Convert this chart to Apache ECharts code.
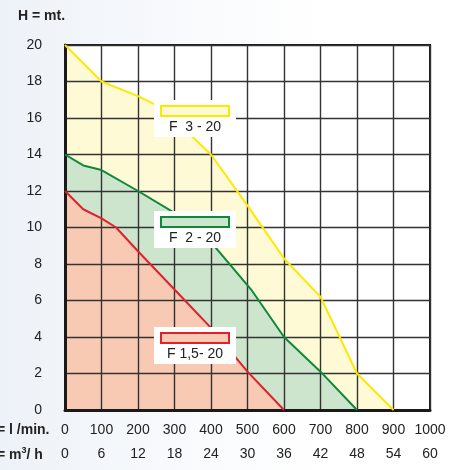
<!DOCTYPE html>
<html>
<head>
<meta charset="utf-8">
<script src="https://cdn.jsdelivr.net/npm/echarts@6/dist/echarts.min.js"></script>
<style>
html,body{margin:0;padding:0;width:460px;height:470px;overflow:hidden;
background:linear-gradient(90deg,#edf2f8 0%,#f7f9fc 35%,#ffffff 70%);}
#c{width:460px;height:470px;}
</style>
</head>
<body>
<div id="c"></div>
<script>
// Flow ticks (l/min) and matching m3/h ticks
var flowTicks = [0,100,200,300,400,500,600,700,800,900,1000];
var m3hTicks = [0,6,12,18,24,30,36,42,48,54,60];
var headTicks = [0,2,4,6,8,10,12,14,16,18,20];

// F 3-20
var f3Flow = [0, 100, 200, 250, 300, 400, 500, 600, 700, 800, 900];
var f3Head = [20, 18, 17.2, 16.7, 15.9, 14, 11.2, 8.3, 6.2, 2, 0];
// F 2-20
var f2Flow = [0, 50, 100, 200, 300, 400, 510, 600, 700, 800];
var f2Head = [14, 13.4, 13.15, 12, 10.8, 9.2, 6.6, 4.0, 2.1, 0];
// F 1,5-20
var f15Flow = [0, 50, 100, 140, 200, 300, 400, 500, 600];
var f15Head = [12, 11, 10.5, 10, 8.7, 6.6, 4.5, 2.1, 0];

var names = ['F  3 - 20', 'F  2 - 20', 'F 1,5- 20'];

function pairs(xs, ys){ return xs.map(function(x,i){return [x, ys[i]];}); }

var chart = echarts.init(document.getElementById('c'), null, {renderer:'canvas'});
var FONT = 'Liberation Sans, Arial, sans-serif';

function areaSeries(data, fill, z){
  return {type:'line', data:data, symbol:'none', z:z, silent:true,
    lineStyle:{width:0, opacity:0}, areaStyle:{color:fill, opacity:1}};
}
function lineSeries(data, col, z){
  return {type:'line', data:data, symbol:'none', z:z, silent:true,
    lineStyle:{width:2, color:col}};
}

function legendBox(top, stroke, fill, text){
  return {type:'group', z:100, children:[
    {type:'rect', shape:{x:154, y:top, width:82, height:37}, style:{fill:'#ffffff'}, z:100},
    {type:'rect', shape:{x:161, y:top+6, width:68, height:10}, style:{fill:fill, stroke:stroke, lineWidth:2}, z:101},
    {type:'text', x:195, y:top+27, style:{text:text, fill:'#222', font:'14px '+FONT, textAlign:'center', textVerticalAlign:'middle'}, z:101}
  ]};
}

var option = {
  animation:false,
  backgroundColor:'transparent',
  grid:{left:65, right:30, top:45, bottom:60, show:true, backgroundColor:'#ffffff', borderColor:'#1a1a1a', borderWidth:2},
  xAxis:[{
    type:'value', min:0, max:1000, interval:100, position:'bottom', z:5,
    axisLine:{show:true, lineStyle:{color:'#1a1a1a', width:3}},
    axisTick:{show:false},
    axisLabel:{margin:13, color:'#222', fontSize:14, fontFamily:FONT,
      formatter:function(v){return flowTicks.indexOf(v)>=0 ? String(v) : '';}},
    splitLine:{show:true, lineStyle:{color:'#333', width:1.4}}
  },{
    type:'value', min:0, max:60, interval:6, position:'bottom', offset:24, z:5,
    axisLine:{show:false}, axisTick:{show:false}, splitLine:{show:false},
    axisLabel:{margin:13, color:'#222', fontSize:14, fontFamily:FONT,
      formatter:function(v){return m3hTicks.indexOf(v)>=0 ? String(v) : '';}}
  }],
  yAxis:{
    type:'value', min:0, max:20, interval:2, z:5,
    axisLine:{show:true, lineStyle:{color:'#1a1a1a', width:3}},
    axisTick:{show:false},
    axisLabel:{margin:23, color:'#222', fontSize:14, fontFamily:FONT,
      formatter:function(v){return headTicks.indexOf(v)>=0 ? String(v) : '';}},
    splitLine:{show:true, lineStyle:{color:'#333', width:1.4}}
  },
  series:[
    areaSeries(pairs(f3Flow, f3Head), '#fffad6', 1),
    areaSeries(pairs(f2Flow, f2Head), '#cde5cd', 2),
    areaSeries(pairs(f15Flow, f15Head), '#f8cab4', 3),
    lineSeries(pairs(f3Flow, f3Head), '#ffe800', 10),
    lineSeries(pairs(f2Flow, f2Head), '#0b8a3a', 11),
    lineSeries(pairs(f15Flow, f15Head), '#e0202a', 12)
  ],
  graphic:[
    {type:'text', left:18, top:9, z:100, style:{text:'H = mt.', fill:'#222', font:'bold 14px '+FONT}},
    {type:'text', x:-3, y:430, z:100, style:{text:'= l /min.', fill:'#222', font:'bold 14px '+FONT, textVerticalAlign:'middle'}},
    {type:'text', x:-3, y:455, z:100, style:{
      text:'= m{s|3}/ h', fill:'#222', font:'bold 14px '+FONT, textVerticalAlign:'middle',
      rich:{s:{fontSize:9, fontWeight:'bold', fontFamily:FONT, verticalAlign:'top', padding:[0,0,8,0], fill:'#222'}}}},
    legendBox(100, '#ffe800', '#fffad6', names[0]),
    legendBox(211, '#0b8a3a', '#cde5cd', names[1]),
    legendBox(327, '#e0202a', '#f8cab4', names[2])
  ]
};
chart.setOption(option);
</script>
</body>
</html>
